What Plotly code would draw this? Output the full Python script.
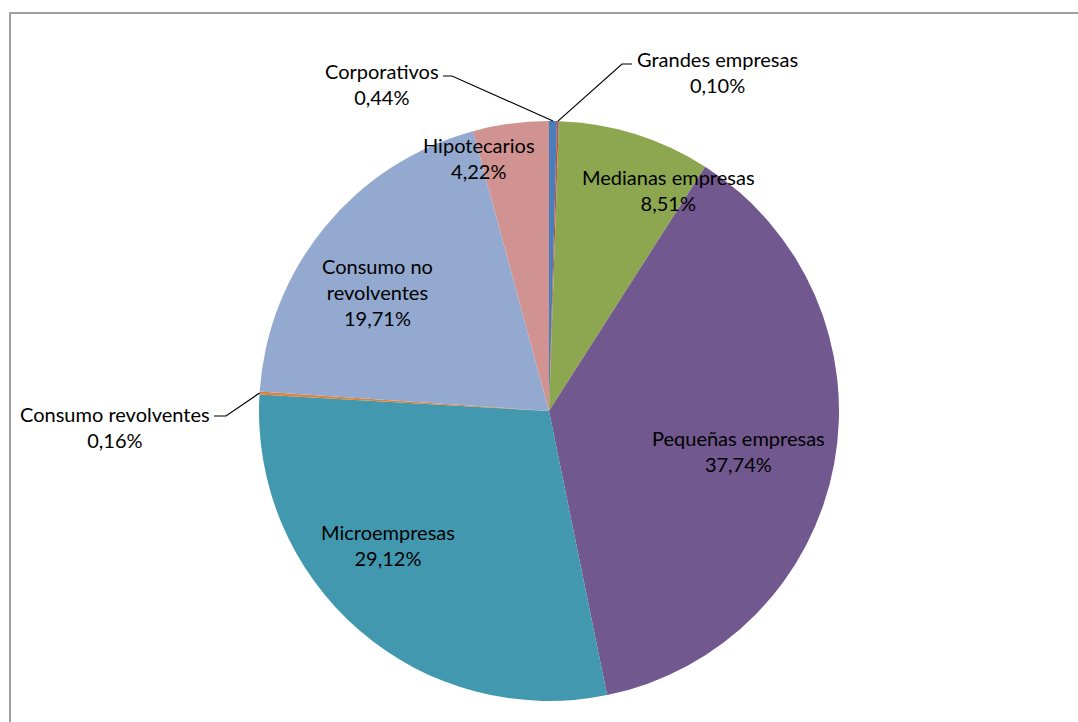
import math
import plotly.graph_objects as go

# Cartera por segmento (porcentaje del total)
categories = [
    "Corporativos",
    "Grandes empresas",
    "Medianas empresas",
    "Pequeñas empresas",
    "Microempresas",
    "Consumo revolventes",
    "Consumo no revolventes",
    "Hipotecarios",
]
shares = [0.44, 0.10, 8.51, 37.74, 29.12, 0.16, 19.71, 4.22]
slice_colors = [
    "#4A7EBB", "#BE4B48", "#8CA74F", "#71588F",
    "#4198AF", "#DB843D", "#93A9CF", "#D19392",
]

W, H = 1078, 722
CX, CY, R = 549, 411, 290  # pie centre and radius in pixels


def px(x):
    return x / W


def py(y):
    return 1 - y / H


fig = go.Figure(
    go.Pie(
        labels=categories,
        values=shares,
        sort=False,
        direction="clockwise",
        rotation=0,
        textinfo="none",
        hoverinfo="label+percent",
        marker=dict(colors=slice_colors, line=dict(width=0)),
        domain=dict(x=[px(CX - R), px(CX + R)], y=[py(CY + R), py(CY - R)]),
        showlegend=False,
    )
)

# label blocks: (line-wrapped name, centre x, centre y, leader stub end or None)
label_layout = {
    "Corporativos": ("Corporativos", 382, 84, (452, 76)),
    "Grandes empresas": ("Grandes empresas", 717, 72, (622, 64)),
    "Medianas empresas": ("Medianas empresas", 668, 190, None),
    "Pequeñas empresas": ("Pequeñas empresas", 738, 451, None),
    "Microempresas": ("Microempresas", 388, 545, None),
    "Consumo revolventes": ("Consumo revolventes", 115, 427, (226, 416)),
    "Consumo no revolventes": ("Consumo no<br>revolventes", 377, 292, None),
    "Hipotecarios": ("Hipotecarios", 479, 158, None),
}
stub_start = {
    "Corporativos": (443, 76),
    "Grandes empresas": (632, 64),
    "Consumo revolventes": (214, 416),
}

total = sum(shares)
cum = 0.0
annotations = []
shapes = []
for name, val in zip(categories, shares):
    mid = (cum + val / 2) / total * 2 * math.pi
    cum += val
    text_name, lx, ly, stub = label_layout[name]
    pct = f"{val:.2f}%".replace(".", ",")
    annotations.append(
        dict(
            x=px(lx), y=py(ly), xref="paper", yref="paper",
            text=f"{text_name}<br>{pct}", showarrow=False,
            xanchor="center", yanchor="middle", align="center",
            font=dict(family="Lato, Open Sans, sans-serif", size=20, color="#000000"),
        )
    )
    if stub is not None:
        ex = CX + R * math.sin(mid)
        ey = CY - R * math.cos(mid)
        sx, sy = stub_start[name]
        path = (
            f"M {px(sx)},{py(sy)} L {px(stub[0])},{py(stub[1])} "
            f"L {px(ex)},{py(ey)}"
        )
        shapes.append(
            dict(type="path", xref="paper", yref="paper", path=path,
                 line=dict(color="#000000", width=1.2))
        )

# chart area frame
shapes.append(
    dict(type="rect", xref="paper", yref="paper",
         x0=px(10), y0=py(H + 20), x1=px(W + 20), y1=py(13),
         line=dict(color="#A0A0A0", width=2))
)

fig.update_layout(
    width=W, height=H,
    margin=dict(l=0, r=0, t=0, b=0),
    paper_bgcolor="#FFFFFF",
    plot_bgcolor="#FFFFFF",
    annotations=annotations,
    shapes=shapes,
)

fig.write_html("out.html")
